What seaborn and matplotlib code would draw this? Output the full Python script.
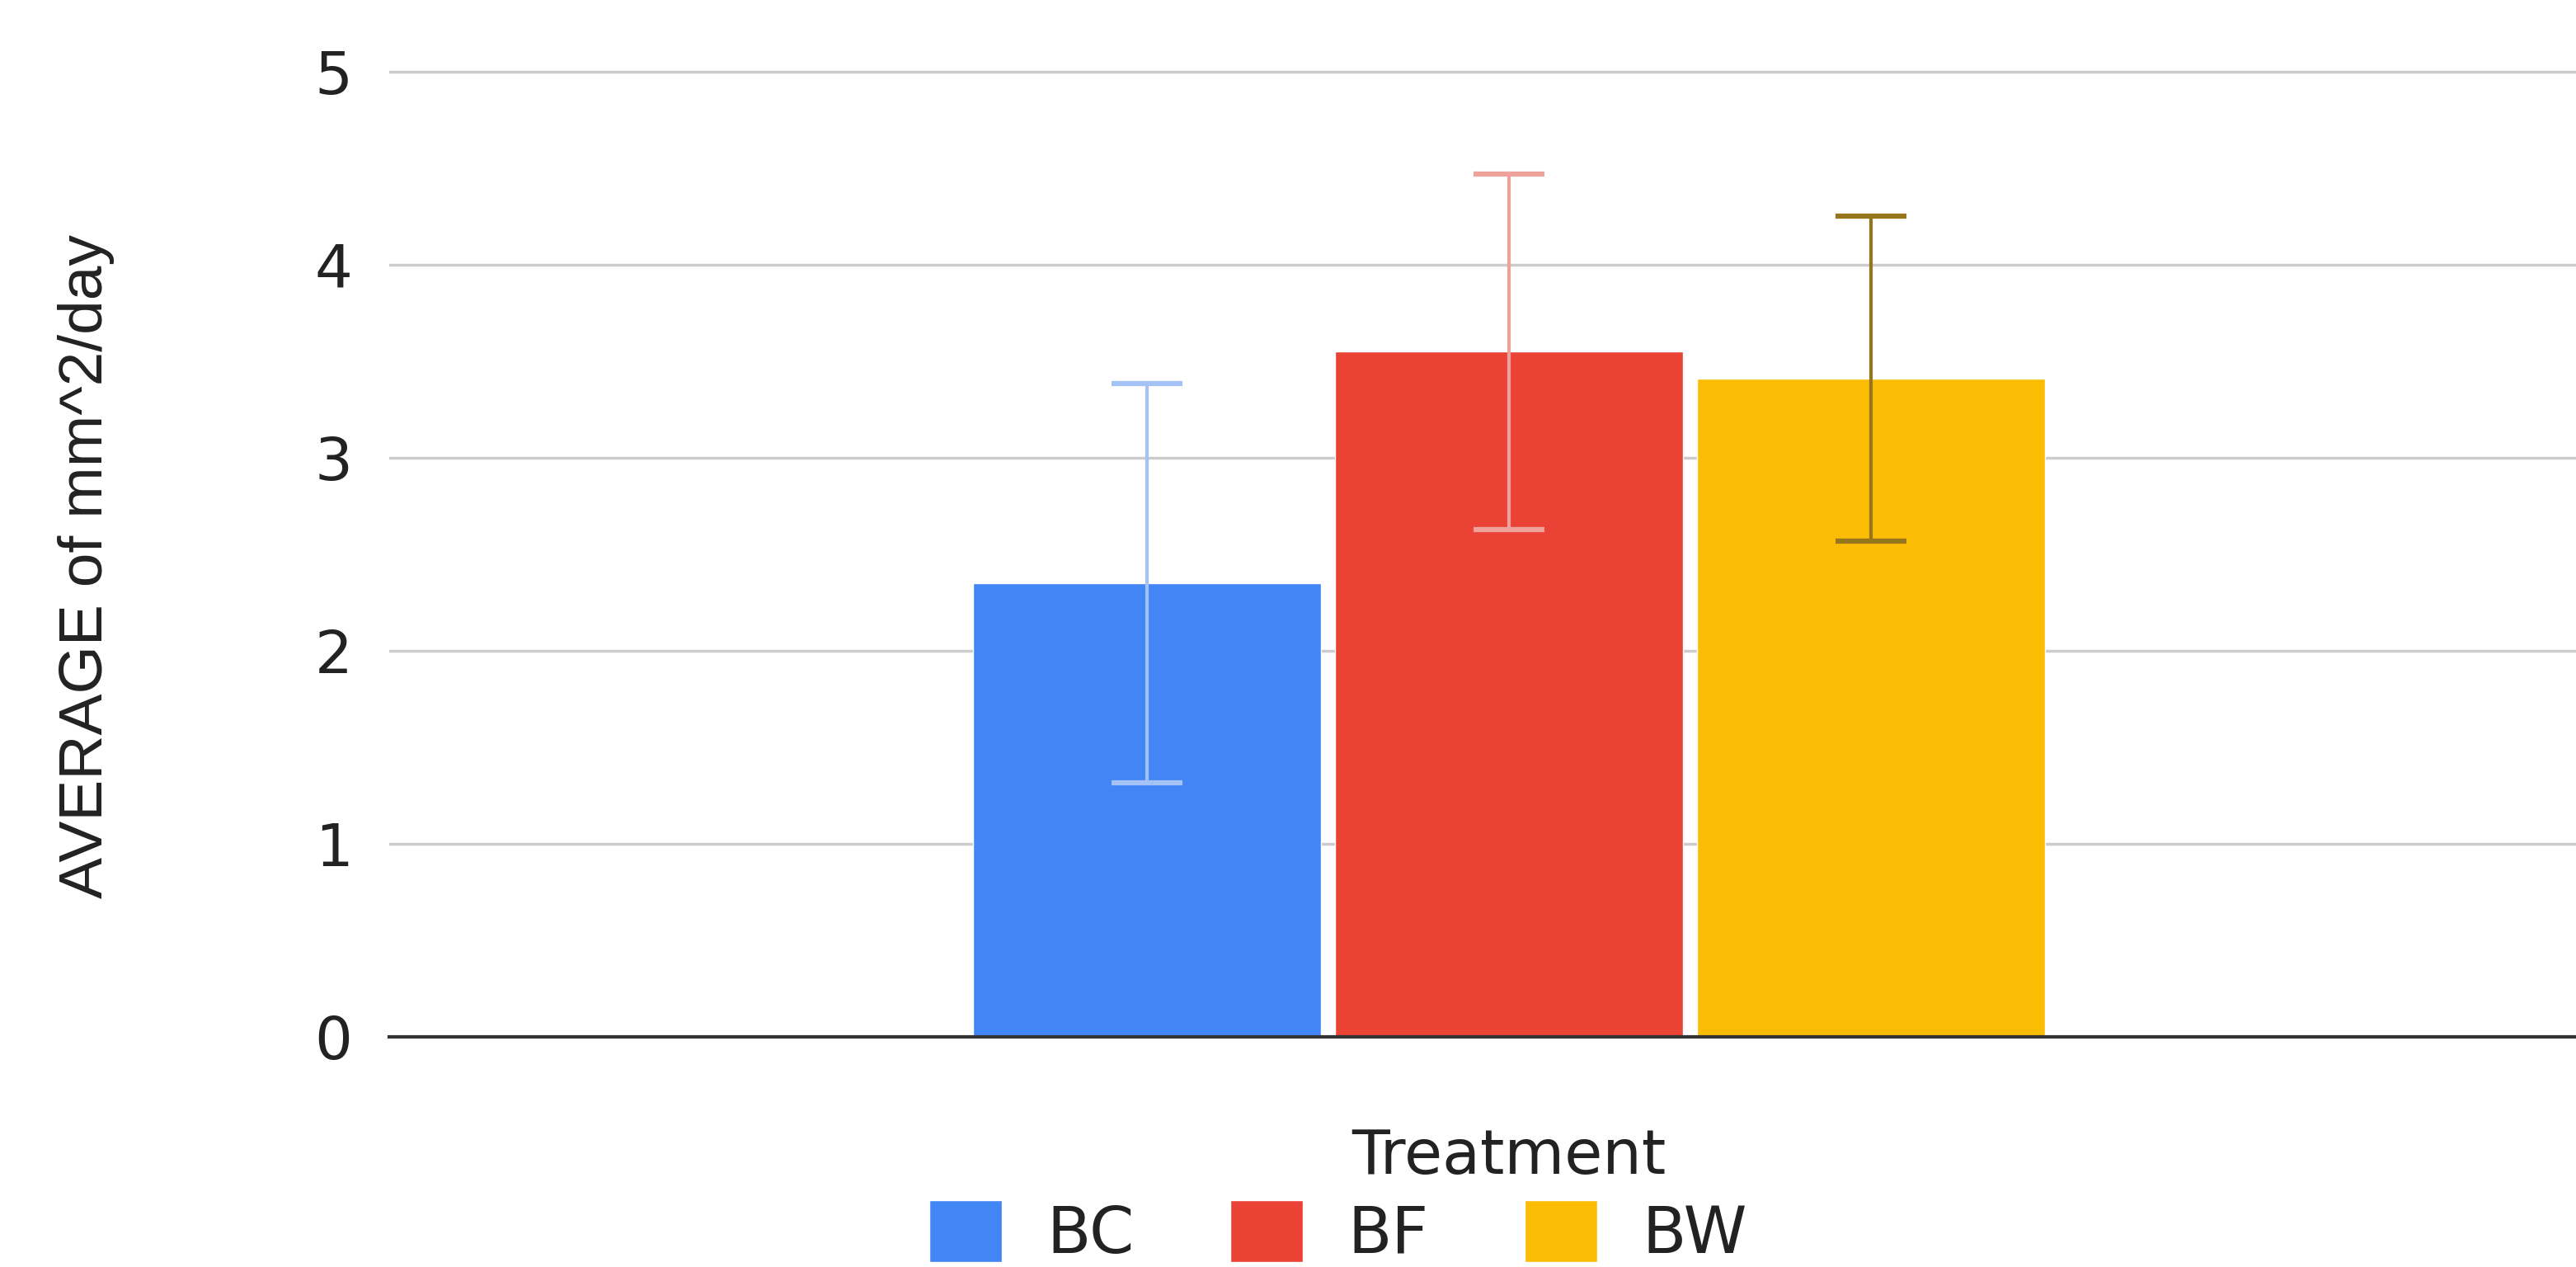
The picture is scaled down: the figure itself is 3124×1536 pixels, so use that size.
import pandas as pd
import numpy as np
import matplotlib.pyplot as plt
import seaborn as sns

# values
treatments = ['BC', 'BF', 'BW']
avg_area = [2.35, 3.55, 3.41]
err = [1.035, 0.92, 0.84]
bar_colors = ['#4285F4', '#EA4335', '#FBBC04']
err_colors = ['#A4C2F4', '#EFA29C', '#96761A']
yticks = [0, 1, 2, 3, 4, 5]

df = pd.DataFrame({'group': [''] * len(treatments), 'Treatment': treatments, 'value': avg_area})

sns.set_style('white')
# the reference text is a bit wide, DejaVu comes closer for horizontal text
plt.rcParams['font.family'] = ['DejaVu Sans']

fig = plt.figure(figsize=(31.24, 15.36), dpi=100)
ax = fig.add_axes([0.1511, 0.1816, 0.8694, 0.7694])

sns.barplot(data=df, x='group', y='value', hue='Treatment', palette=bar_colors,
            width=0.485, gap=0.04, errorbar=None, saturation=1, ax=ax, legend=True)

# error bars on top of each bar
for bar, e, c in zip(ax.patches, err, err_colors):
    x = bar.get_x() + bar.get_width() / 2
    ax.errorbar(x, bar.get_height(), yerr=e, fmt='none', ecolor=c,
                elinewidth=3, capsize=31, capthick=4.5, zorder=3)

ax.set_xlim(-0.5, 0.5)
ax.set_ylim(0, 5.05)
ax.set_yticks(yticks)
ax.set_xticks([])
ax.yaxis.grid(True, color='#cccccc', lw=2.5)
ax.set_axisbelow(True)
for s in ['top', 'right', 'left']:
    ax.spines[s].set_visible(False)
ax.spines['bottom'].set_color('#333333')
ax.spines['bottom'].set_linewidth(3)
ax.tick_params(axis='y', length=0, pad=32, labelsize=52, labelcolor='#222222')

ax.set_ylabel('AVERAGE of mm^2/day', fontsize=54, color='#222222',
              family=['Liberation Sans', 'DejaVu Sans'])
ax.yaxis.set_label_coords(-0.1355, 0.4826)
ax.yaxis.label.set_va('center')
ax.set_xlabel('Treatment', fontsize=54, color='#222222')
ax.xaxis.set_label_coords(0.5, -0.123)
ax.xaxis.label.set_va('center')

handles, labels = ax.get_legend_handles_labels()
ax.get_legend().remove()
fig.legend(handles, labels, loc='center', bbox_to_anchor=(0.5195, 0.0267),
           ncol=3, frameon=False, fontsize=56, handlelength=1.13, handleheight=1.1,
           handletextpad=0.7, columnspacing=1.5, labelcolor='#222222')

fig.savefig('out.png', dpi=100)
